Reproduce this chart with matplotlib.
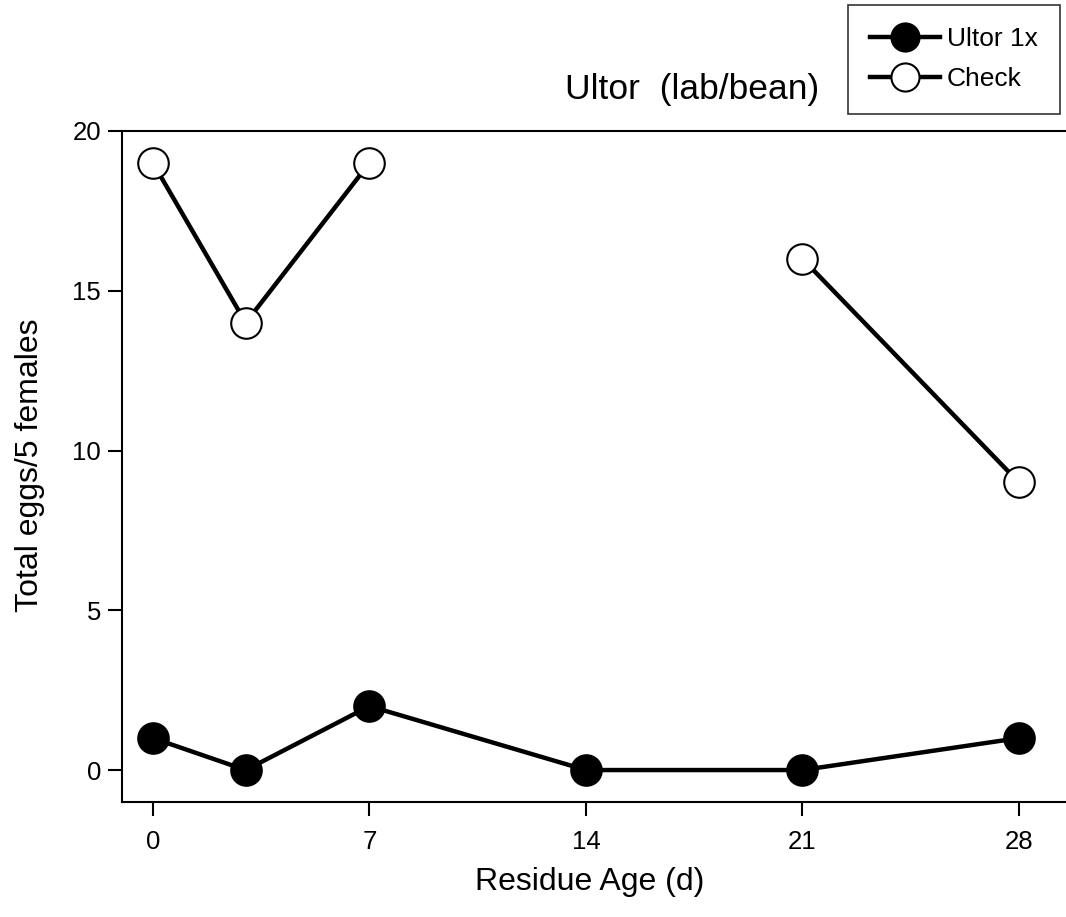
import numpy as np
import matplotlib.pyplot as plt

plt.rcParams['font.family'] = ['Liberation Sans', 'DejaVu Sans']

days = [0, 3, 7, 14, 21, 28]
ultor = [1, 0, 2, 0, 0, 1]
check = [19, 14, 19, np.nan, 16, 9]

fig = plt.figure(figsize=(10.66, 9.17), dpi=100)
ax = fig.add_axes([122/1066, 1 - 802/917, 1 - 122/1066, (802 - 131)/917])

ax.plot(days, ultor, color='black', lw=3.2, marker='o', ms=22,
        mfc='black', mec='black', mew=1.5, label='Ultor 1x', clip_on=False)
ax.plot(days, check, color='black', lw=3.2, marker='o', ms=22,
        mfc='white', mec='black', mew=1.5, label='Check', clip_on=False)

ax.set_xlim(-1, 29.52)
ax.set_ylim(-1, 20)
ax.set_xticks([0, 7, 14, 21, 28])
ax.set_yticks([0, 5, 10, 15, 20])
ax.tick_params(direction='out', length=10, width=1.5, labelsize=18.5)
ax.tick_params(axis='x', pad=10)
ax.tick_params(axis='y', pad=5)
ax.spines['right'].set_visible(False)
for s in ['left', 'bottom', 'top']:
    ax.spines[s].set_linewidth(1.5)

fig.text(590/1066, 1 - 882/917, 'Residue Age (d)', ha='center', va='center', fontsize=23)
fig.text(30/1066, 1 - 465/917, 'Total eggs/5 females', ha='center', va='center',
         rotation=90, fontsize=23)
fig.text(692/1066, 1 - 90/917, 'Ultor  (lab/bean)', ha='center', va='center', fontsize=25.5)

leg = fig.legend(loc='upper right', bbox_to_anchor=(1060/1066, 1 - 5/917),
                 fontsize=19, handlelength=2.65, markerscale=0.92,
                 frameon=True, fancybox=False, edgecolor='black',
                 borderpad=0.85, labelspacing=0.6, handletextpad=0.25,
                 borderaxespad=0)
leg.get_frame().set_linewidth(1.2)

fig.savefig('out.png', dpi=100)
